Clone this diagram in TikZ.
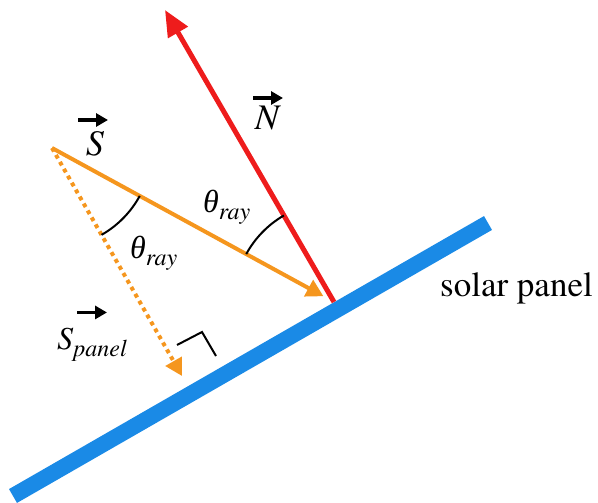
\documentclass[tikz,border=0pt]{standalone}
\usepackage{fontspec}
\setmainfont{texgyretermes}[Extension=.otf,UprightFont=*-regular,ItalicFont=*-italic,BoldFont=*-bold,BoldItalicFont=*-bolditalic]
\newfontfamily\greekfont{Liberation Serif}
\usepackage{tikz}
\usetikzlibrary{arrows.meta,angles}
\definecolor{opanel}{HTML}{1A8AE6}
\definecolor{oray}{HTML}{F5961E}
\definecolor{onormal}{HTML}{EE1C1C}
\newcommand{\lowsub}[1]{\raisebox{-0.22em}{\fontsize{24}{24}\selectfont\itshape #1}}
\newcommand{\thray}{{\greekfont\itshape θ}\lowsub{ray}}

\begin{document}
\begin{tikzpicture}[x=1pt,y=-1pt,
  lab/.style={inner sep=0pt,font=\fontsize{32}{36}\selectfont},
  biglab/.style={inner sep=0pt,font=\fontsize{36}{40}\selectfont},
  vecarr/.style={black,line width=3.4pt,-{Triangle[length=12pt,width=13pt]}},
  angarc/.style={draw,black,line width=2pt,angle radius=100pt}]
  \useasboundingbox (0,0) rectangle (598,503);
  % points
  \coordinate (sun) at (52,148);
  \coordinate (meet) at (334,302);
  \coordinate (ntip) at (165,10);
  \coordinate (foot) at (182,376);

  % panel
  \draw[opanel,line width=16pt] (13,496) -- (488,223);

  % normal and rays
  \draw[onormal,line width=5pt,-{Triangle[length=26pt,width=22pt]}] (meet) -- (ntip);
  \draw[oray,line width=4pt,shorten >=12pt,-{Triangle[length=17pt,width=18pt]}] (sun) -- (meet);
  \draw[oray,line width=4pt,dash pattern=on 4pt off 4pt,-{Triangle[length=17pt,width=18pt]}] (sun) -- (foot);

  % angles
  \pic[angarc] {angle=foot--sun--meet};
  \pic[angarc] {angle=ntip--meet--sun};
  \draw[line width=2pt] (177,345) -- (202,332) -- (216,356);

  % labels
  \node[biglab,anchor=north] (lS) at (95,131) {\textit{S}};
  \node[biglab,anchor=north] (lN) at (268,106) {\textit{N}};
  \node[lab,anchor=base west] (lth1) at (203,212) {\thray};
  \node[lab,anchor=base west] (lth2) at (130,258) {\thray};
  \node[lab,anchor=base west] (lSp) at (57,349) {\textit{S}\lowsub{panel}};
  \node[lab,font=\fontsize{35}{40}\selectfont,anchor=base west] (lpanel) at (440,296) {solar panel};
  \foreach \n/\a/\dx/\dy in {lS/north/-17/11, lN/north/-15/8, lSp/north west/20/15}
    \draw[vecarr] ([xshift=\dx pt,yshift=\dy pt]\n.\a) -- ++(30,0);
\end{tikzpicture}
\end{document}
